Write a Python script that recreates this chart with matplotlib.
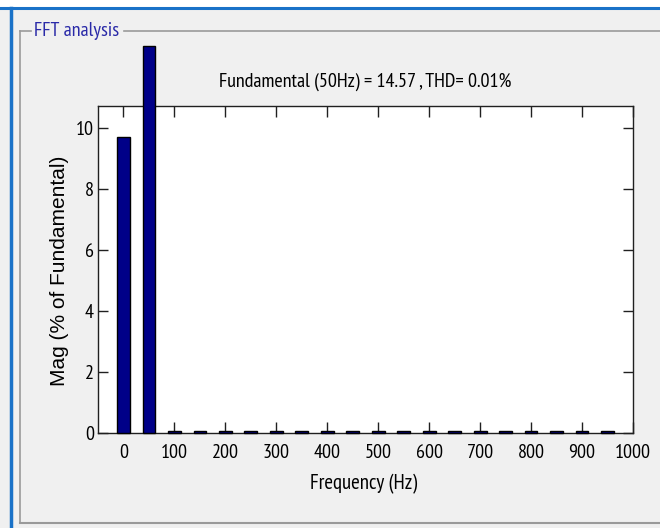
import matplotlib
matplotlib.use("Agg")
import matplotlib.pyplot as plt
from matplotlib.lines import Line2D

# Data
freqs = [0, 50, 100, 150, 200, 250, 300, 350, 400, 450, 500, 550, 600, 650, 700, 750, 800, 850, 900, 950]
mags = [9.72, 12.7, 0.05, 0.05, 0.05, 0.05, 0.05, 0.05, 0.05, 0.05, 0.05, 0.05, 0.05, 0.05, 0.05, 0.05, 0.05, 0.05, 0.05, 0.05]
xticks = [0, 100, 200, 300, 400, 500, 600, 700, 800, 900, 1000]
yticks = [0, 2, 4, 6, 8, 10]
title = "Fundamental (50Hz) = 14.57 , THD= 0.01%"

W, H = 660, 528
fig = plt.figure(figsize=(6.6, 5.28), dpi=100)
fig.patch.set_facecolor("#f0f0f0")

narrow = ["PT Sans Narrow", "DejaVu Sans"]

# window chrome
fig.add_artist(plt.Rectangle((0, 1 - 7 / H), 1, 7 / H, transform=fig.transFigure, facecolor="white", edgecolor="none"))
fig.add_artist(Line2D([0, 1], [1 - 8 / H] * 2, transform=fig.transFigure, color="#1a72c8", lw=2.2))
fig.add_artist(Line2D([11 / W] * 2, [0, 1 - 8 / H], transform=fig.transFigure, color="#1a72c8", lw=2.5))
# group box
fig.add_artist(Line2D([20 / W, 31 / W], [1 - 31 / H] * 2, transform=fig.transFigure, color="#9a9a9a", lw=1.2))
fig.add_artist(Line2D([124 / W, 1], [1 - 31 / H] * 2, transform=fig.transFigure, color="#9a9a9a", lw=1.2))
fig.add_artist(Line2D([20 / W] * 2, [1 - 523 / H, 1 - 31 / H], transform=fig.transFigure, color="#9a9a9a", lw=1.2))
fig.add_artist(Line2D([20 / W, 1], [1 - 523 / H] * 2, transform=fig.transFigure, color="#9a9a9a", lw=1.5))
fig.text(34 / W, 1 - 31 / H, "FFT analysis", family=narrow, fontsize=14.5, color="#2a2aa8", va="center", ha="left")

# axes
l, r, t, b = 98, 633, 106, 433
ax = fig.add_axes([l / W, 1 - b / H, (r - l) / W, (b - t) / H])
ax.set_facecolor("white")
ax.bar(freqs, mags, width=25, color="#000088", edgecolor="black", linewidth=1.0, clip_on=False, zorder=3)
ax.set_xlim(-50, 1000)
ax.set_ylim(0, 10.72)
ax.set_xticks(xticks)
ax.set_yticks(yticks)
ax.set_xticklabels([str(v) for v in xticks], family=narrow, fontsize=14.5)
ax.set_yticklabels([str(v) for v in yticks], family=narrow, fontsize=14.5)
ax.tick_params(axis="x", direction="in", length=8, width=1, top=True, pad=8, color="#202020")
ax.tick_params(axis="y", direction="in", length=7, width=1, right=True, pad=3, color="#202020")
for s in ax.spines.values():
    s.set_linewidth(1.0)
    s.set_color("#202020")
ax.set_xlabel("Frequency (Hz)", family=narrow, fontsize=15)
ax.xaxis.set_label_coords(0.497, -0.125)
ax.set_ylabel("Mag (% of Fundamental)", family=["Liberation Sans", "DejaVu Sans"], fontsize=15)
ax.yaxis.set_label_coords(-0.054, 0.495)
fig.text(365 / W, 1 - 82 / H, title, family=narrow, fontsize=14.5, ha="center", va="center")

fig.savefig("out.png", dpi=100, facecolor=fig.get_facecolor())
